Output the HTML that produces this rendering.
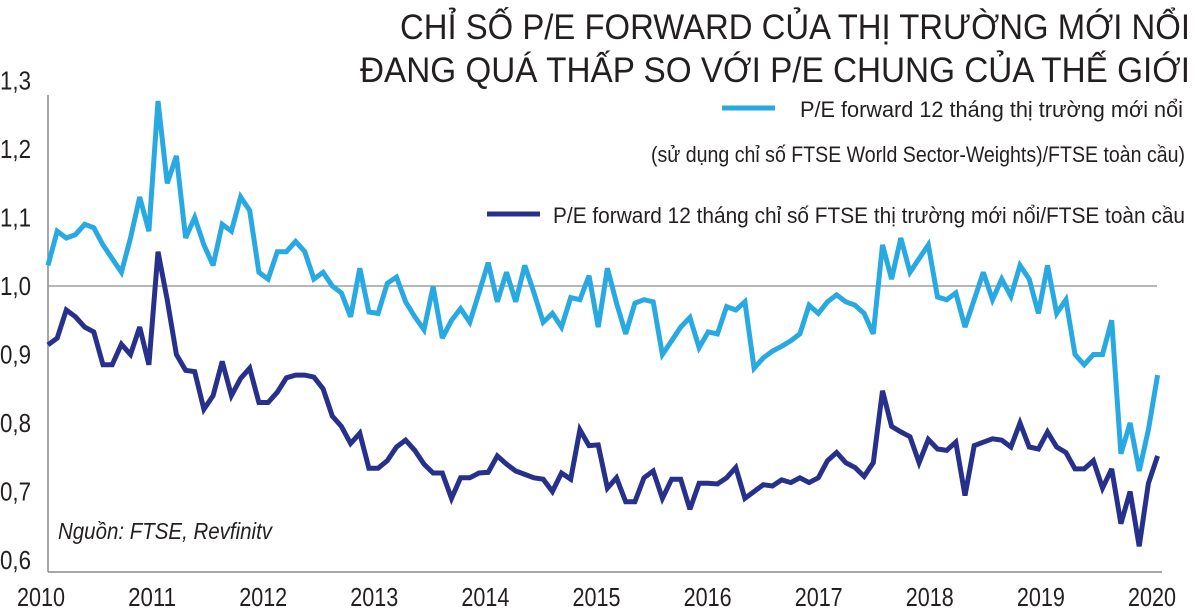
<!DOCTYPE html>
<html><head><meta charset="utf-8"><style>
html,body{margin:0;padding:0;background:#fff;width:1200px;height:611px;overflow:hidden}
svg{display:block;font-family:"Liberation Sans",sans-serif}
</style></head><body>
<svg id="chart" width="1200" height="611" viewBox="0 0 1200 611">
<text x="1190" y="39" text-anchor="end" font-size="35" fill="#231f20" textLength="790" lengthAdjust="spacingAndGlyphs">CHỈ SỐ P/E FORWARD CỦA THỊ TRƯỜNG MỚI NỔI</text>
<text x="1190" y="82" text-anchor="end" font-size="35" fill="#231f20" textLength="830" lengthAdjust="spacingAndGlyphs">ĐANG QUÁ THẤP SO VỚI P/E CHUNG CỦA THẾ GIỚI</text>
<line x1="722" y1="108" x2="775" y2="108" stroke="#29a9e1" stroke-width="5"/>
<text x="1183" y="117" text-anchor="end" font-size="22" fill="#231f20" textLength="383" lengthAdjust="spacingAndGlyphs">P/E forward 12 tháng thị trường mới nổi</text>
<text x="1185" y="162" text-anchor="end" font-size="22" fill="#231f20" textLength="534" lengthAdjust="spacingAndGlyphs">(sử dụng chỉ số FTSE World Sector-Weights)/FTSE toàn cầu)</text>
<line x1="487" y1="214" x2="540" y2="214" stroke="#27318b" stroke-width="5"/>
<text x="1185" y="223" text-anchor="end" font-size="22" fill="#231f20" textLength="632" lengthAdjust="spacingAndGlyphs">P/E forward 12 tháng chỉ số FTSE thị trường mới nổi/FTSE toàn cầu</text>
<text x="58" y="539" font-size="23" font-style="italic" fill="#231f20" textLength="214" lengthAdjust="spacingAndGlyphs">Nguồn: FTSE, Revfinitv</text>
<g id="axes"></g>
<g id="series"></g>
</svg>
<script>
const yTicks=[0.6,0.7,0.8,0.9,1.0,1.1,1.2,1.3];
const yTickLabels=["0,6","0,7","0,8","0,9","1,0","1,1","1,2","1,3"];
const xYears=[2010,2011,2012,2013,2014,2015,2016,2017,2018,2019,2020];
const emSector=[1.03,1.08,1.07,1.075,1.09,1.085,1.06,1.04,1.02,1.07,1.13,1.08,
1.27,1.15,1.19,1.07,1.10,1.06,1.03,1.09,1.08,1.13,1.11,1.02,
1.01,1.05,1.05,1.065,1.05,1.01,1.02,1.00,0.99,0.955,1.026,0.962,
0.96,1.004,1.013,0.977,0.955,0.936,0.999,0.924,0.95,0.967,0.947,0.99,
1.034,0.977,1.02,0.977,1.03,0.99,0.947,0.96,0.94,0.983,0.98,1.015,
0.94,1.026,0.975,0.93,0.975,0.98,0.977,0.90,0.92,0.94,0.954,0.91,
0.933,0.93,0.97,0.965,0.977,0.88,0.895,0.905,0.912,0.92,0.93,0.972,
0.96,0.977,0.987,0.977,0.972,0.96,0.93,1.06,1.01,1.07,1.02,1.04,
1.06,0.984,0.98,0.99,0.94,0.98,1.02,0.98,1.01,0.985,1.03,1.01,
0.96,1.03,0.96,0.98,0.90,0.885,0.90,0.90,0.95,0.755,0.80,0.73,
0.79,0.87];
const emIndex=[0.914,0.924,0.965,0.955,0.94,0.933,0.885,0.885,0.915,0.90,0.94,0.885,
1.05,0.98,0.90,0.877,0.875,0.82,0.84,0.89,0.84,0.865,0.88,0.83,
0.83,0.845,0.866,0.87,0.87,0.867,0.85,0.81,0.795,0.77,0.785,0.734,
0.734,0.745,0.765,0.775,0.76,0.74,0.727,0.727,0.69,0.72,0.72,0.727,
0.728,0.752,0.74,0.73,0.725,0.72,0.718,0.70,0.727,0.718,0.79,0.767,
0.768,0.705,0.72,0.685,0.685,0.72,0.73,0.69,0.718,0.718,0.674,0.712,
0.712,0.711,0.72,0.735,0.69,0.70,0.71,0.708,0.717,0.713,0.72,0.713,
0.72,0.745,0.757,0.742,0.735,0.722,0.742,0.847,0.795,0.787,0.78,0.742,
0.776,0.762,0.76,0.772,0.694,0.767,0.772,0.777,0.775,0.765,0.80,0.765,
0.762,0.787,0.765,0.757,0.733,0.733,0.745,0.705,0.733,0.653,0.70,0.62,
0.712,0.752];
const NS="http://www.w3.org/2000/svg";
function yScale(v){return 286-(v-1.0)*685;}
function xIdx(i){return 48+i*9.17;}
function xYear(yr){return 41+(yr-2010)*111.1;}
const axes=document.getElementById('axes'), series=document.getElementById('series');
function mk(tag,attrs,parent){const e=document.createElementNS(NS,tag);for(const k in attrs)e.setAttribute(k,attrs[k]);parent.appendChild(e);return e;}
let e=mk('line',{x1:48,y1:95,x2:48,y2:572,stroke:'#8a8a8a','stroke-width':1.5},axes);


e=mk('line',{x1:48,y1:572,x2:1162,y2:572,stroke:'#8a8a8a','stroke-width':1.5},axes);


e=mk('line',{x1:48,y1:yScale(1.0),x2:1157,y2:yScale(1.0),stroke:'#8a8a8a','stroke-width':1.2},axes);


yTicks.forEach((v,i)=>{
 const t=mk('text',{x:0,y:yScale(v)+9,'font-size':26,fill:'#231f20',textLength:31,lengthAdjust:'spacingAndGlyphs'},axes);
 t.textContent=yTickLabels[i];
 
 
});
xYears.forEach(yr=>{
 const t=mk('text',{x:xYear(yr)-24,y:606,'font-size':26,fill:'#231f20',textLength:48,lengthAdjust:'spacingAndGlyphs'},axes);
 t.textContent=String(yr);
 
 
});
function line(data,color,name){
 const d=data.map((v,i)=>(i?'L':'M')+xIdx(i).toFixed(1)+' '+yScale(v).toFixed(1)).join(' ');
 const p=mk('path',{d:d,fill:'none',stroke:color,'stroke-width':5,'stroke-linejoin':'miter','stroke-miterlimit':3},series);
 
 
}
line(emSector,'#29a9e1','line-em-sector-weights');
line(emIndex,'#27318b','line-em-ftse-index');
</script>
</body></html>
